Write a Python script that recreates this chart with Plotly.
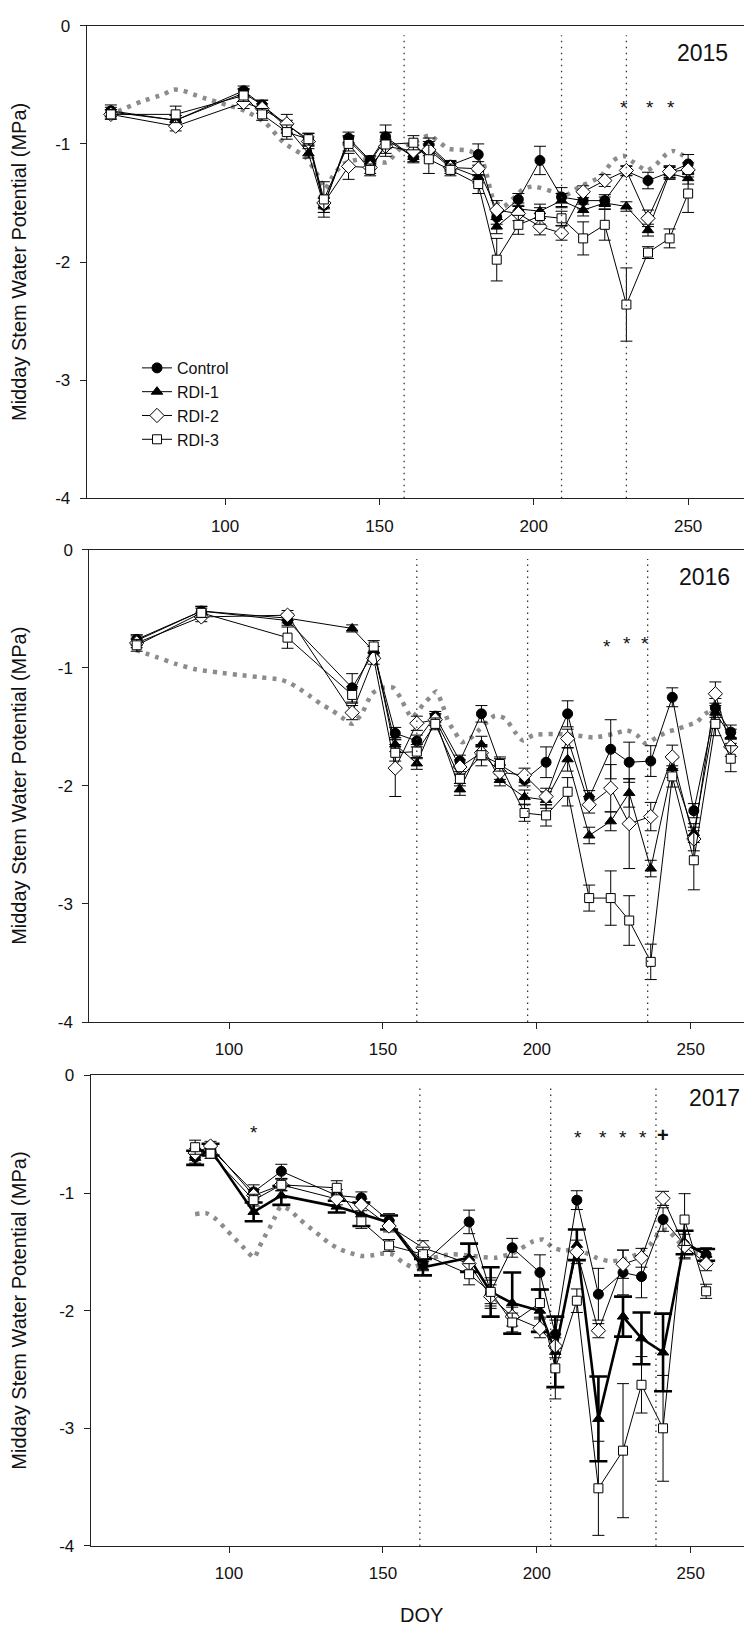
import plotly.graph_objects as go

# ---------------- 2015 ----------------
doy15 = [63, 84, 106, 112, 120, 127, 132, 140, 147, 152, 161, 166, 173, 182, 188, 195, 202, 209, 216, 223, 230, 237, 244, 250]
ctl15 = [-0.72, -0.80, -0.55, -0.67, -0.84, -0.96, -1.52, -0.95, -1.14, -0.94, -1.11, -1.01, -1.18, -1.09, -1.62, -1.47, -1.14, -1.45, -1.48, -1.48, -1.23, -1.31, -1.24, -1.17]
ctl15e = [0.05, 0.04, 0.04, 0.04, 0.04, 0.05, 0.06, 0.05, 0.04, 0.10, 0.05, 0.06, 0.04, 0.09, 0.06, 0.05, 0.12, 0.08, 0.07, 0.05, 0.04, 0.07, 0.05, 0.08]
r1_15 = [-0.73, -0.80, -0.57, -0.67, -0.86, -1.08, -1.52, -0.97, -1.15, -0.96, -1.11, -1.03, -1.19, -1.28, -1.70, -1.55, -1.57, -1.48, -1.56, -1.50, -1.53, -1.73, -1.25, -1.29]
r1_15e = [0.04, 0.04, 0.04, 0.04, 0.04, 0.04, 0.06, 0.04, 0.04, 0.06, 0.04, 0.05, 0.04, 0.05, 0.06, 0.05, 0.06, 0.06, 0.05, 0.05, 0.04, 0.05, 0.05, 0.05]
r2_15 = [-0.75, -0.85, -0.65, -0.70, -0.83, -0.98, -1.50, -1.19, -1.20, -1.02, -1.06, -1.05, -1.20, -1.21, -1.56, -1.59, -1.70, -1.755, -1.405, -1.31, -1.225, -1.63, -1.235, -1.22]
r2_15e = [0.04, 0.04, 0.05, 0.04, 0.08, 0.04, 0.05, 0.11, 0.05, 0.06, 0.05, 0.05, 0.05, 0.06, 0.08, 0.06, 0.07, 0.06, 0.05, 0.05, 0.04, 0.07, 0.05, 0.06]
r3_15 = [-0.75, -0.75, -0.59, -0.75, -0.90, -0.96, -1.47, -1.00, -1.22, -1.005, -0.99, -1.13, -1.22, -1.34, -1.98, -1.685, -1.61, -1.63, -1.80, -1.685, -2.36, -1.92, -1.80, -1.42]
r3_15e = [0.04, 0.07, 0.05, 0.05, 0.06, 0.05, 0.15, 0.06, 0.05, 0.10, 0.06, 0.12, 0.05, 0.08, 0.18, 0.08, 0.07, 0.06, 0.14, 0.13, 0.31, 0.05, 0.08, 0.16]
ref15_doy = [62.4, 66.5, 73, 80, 83.3, 86.5, 89.7, 93, 100.5, 106.5, 113, 119, 126, 129.7, 132.4, 134.5, 138.2, 143.7, 152.4, 156.7, 161, 166.2, 172.3, 179.4, 183.7, 187, 190.2, 196.7, 200, 206.3, 210.6, 215, 221.5, 225.8, 229, 232.3, 236.6, 239.8, 243, 245.2, 248.5]
ref15 = [-0.76, -0.71, -0.64, -0.58, -0.54, -0.55, -0.58, -0.61, -0.67, -0.72, -0.82, -0.99, -1.11, -1.25, -1.38, -1.29, -1.17, -1.13, -1.155, -1.04, -0.99, -0.93, -1.04, -1.06, -1.17, -1.475, -1.53, -1.38, -1.36, -1.405, -1.43, -1.36, -1.28, -1.14, -1.10, -1.155, -1.225, -1.17, -1.085, -1.06, -1.10]
vl15 = [158, 209, 230]
star15_doy = [229.3, 237.8, 244.4]
star15_y = [-0.675, -0.675, -0.675]

# ---------------- 2016 ----------------
doy16 = [70, 91, 119, 140, 147, 154, 161, 167, 175, 182, 188, 196, 203, 210, 217, 224, 230, 237, 244, 251, 258, 263]
ctl16 = [-0.76, -0.52, -0.60, -1.17, -0.87, -1.555, -1.62, -1.41, -1.79, -1.39, -1.82, -1.95, -1.80, -1.39, -2.10, -1.69, -1.80, -1.79, -1.25, -2.21, -1.34, -1.545]
ctl16e = [0.04, 0.04, 0.04, 0.12, 0.05, 0.05, 0.05, 0.04, 0.05, 0.07, 0.05, 0.05, 0.13, 0.11, 0.06, 0.25, 0.17, 0.13, 0.08, 0.06, 0.08, 0.06]
r1_16 = [-0.77, -0.52, -0.58, -0.667, -0.86, -1.65, -1.81, -1.44, -2.03, -1.65, -1.95, -2.095, -2.12, -1.775, -2.42, -2.30, -2.06, -2.70, -1.85, -2.40, -1.38, -1.58]
r1_16e = [0.04, 0.04, 0.04, 0.03, 0.04, 0.06, 0.05, 0.05, 0.05, 0.07, 0.05, 0.06, 0.07, 0.10, 0.07, 0.08, 0.12, 0.07, 0.08, 0.08, 0.08, 0.06]
r2_16 = [-0.79, -0.57, -0.555, -1.38, -0.92, -1.85, -1.47, -1.44, -1.84, -1.72, -1.885, -1.91, -2.09, -1.60, -2.16, -2.02, -2.32, -2.26, -1.755, -2.45, -1.22, -1.67]
r2_16e = [0.04, 0.04, 0.04, 0.06, 0.05, 0.24, 0.06, 0.05, 0.06, 0.06, 0.06, 0.06, 0.07, 0.08, 0.07, 0.20, 0.38, 0.12, 0.10, 0.10, 0.10, 0.08]
r3_16 = [-0.81, -0.535, -0.745, -1.23, -0.82, -1.72, -1.71, -1.475, -1.94, -1.74, -1.815, -2.23, -2.25, -2.05, -2.95, -2.95, -3.14, -3.49, -1.92, -2.63, -1.475, -1.77]
r3_16e = [0.05, 0.04, 0.09, 0.07, 0.05, 0.07, 0.06, 0.05, 0.06, 0.09, 0.06, 0.07, 0.09, 0.12, 0.11, 0.23, 0.21, 0.15, 0.09, 0.25, 0.10, 0.11]
ref16_doy = [69.8, 76.5, 83, 89.5, 96.5, 103, 110, 116.6, 119.8, 123, 126.3, 130, 133.4, 136.6, 139.9, 143.1, 146.4, 149.6, 153.4, 155.6, 159.4, 163.1, 165.3, 167.3, 169.1, 171.3, 173.4, 175.6, 178.3, 181.5, 186.4, 189.7, 192.9, 195.4, 198.9, 205.4, 211.9, 218.4, 224.9, 229.3, 232.5, 235.2, 239, 242.2, 245.5, 248.7, 252, 254.6, 260]
ref16 = [-0.85, -0.91, -0.97, -1.015, -1.04, -1.06, -1.08, -1.10, -1.13, -1.18, -1.24, -1.31, -1.36, -1.42, -1.475, -1.39, -1.22, -1.17, -1.17, -1.25, -1.42, -1.31, -1.25, -1.20, -1.295, -1.46, -1.545, -1.63, -1.60, -1.52, -1.405, -1.43, -1.545, -1.615, -1.57, -1.56, -1.57, -1.59, -1.56, -1.53, -1.57, -1.64, -1.59, -1.545, -1.52, -1.49, -1.46, -1.39, -1.32]
vl16 = [161, 197, 236]
star16_doy = [222.7, 229.4, 235.2]
star16_y = [-0.80, -0.78, -0.78]

# ---------------- 2017 ----------------
doy17 = [89, 94, 108, 117, 135, 143, 152, 163, 178, 185, 192, 201, 206, 213, 220, 228, 234, 241, 248, 255]
ctl17 = [-0.695, -0.62, -0.99, -0.815, -1.02, -1.04, -1.235, -1.60, -1.245, -1.84, -1.465, -1.675, -2.20, -1.06, -1.86, -1.675, -1.71, -1.225, -1.44, -1.525]
ctl17e = [0.05, 0.04, 0.06, 0.06, 0.05, 0.05, 0.06, 0.06, 0.10, 0.12, 0.08, 0.15, 0.12, 0.08, 0.22, 0.19, 0.18, 0.10, 0.12, 0.06]
r1_17 = [-0.70, -0.63, -1.16, -1.02, -1.115, -1.18, -1.25, -1.63, -1.55, -1.84, -1.935, -2.00, -2.35, -1.44, -2.92, -2.05, -2.235, -2.355, -1.42, -1.525]
r1_17e = [0.06, 0.05, 0.08, 0.08, 0.05, 0.10, 0.06, 0.07, 0.12, 0.21, 0.26, 0.18, 0.30, 0.13, 0.36, 0.17, 0.22, 0.33, 0.10, 0.05]
r2_17 = [-0.66, -0.60, -1.02, -0.93, -1.05, -1.10, -1.28, -1.465, -1.60, -1.88, -2.05, -2.15, -2.30, -1.50, -2.17, -1.605, -1.55, -1.045, -1.45, -1.60]
r2_17e = [0.04, 0.04, 0.05, 0.05, 0.05, 0.05, 0.05, 0.06, 0.06, 0.10, 0.08, 0.08, 0.10, 0.10, 0.06, 0.12, 0.08, 0.06, 0.10, 0.06]
r3_17 = [-0.61, -0.665, -1.06, -0.93, -0.955, -1.24, -1.445, -1.52, -1.69, -1.84, -2.10, -1.935, -2.49, -1.915, -3.51, -3.19, -2.63, -3.00, -1.225, -1.835]
r3_17e = [0.06, 0.04, 0.05, 0.05, 0.06, 0.06, 0.05, 0.06, 0.09, 0.10, 0.08, 0.12, 0.26, 0.10, 0.40, 0.57, 0.24, 0.45, 0.22, 0.06]
ref17_doy = [89, 92.5, 95.7, 98.9, 102, 105, 108.2, 109.8, 111.5, 113.3, 115, 116.8, 119.6, 122.8, 126.1, 129.5, 132.8, 136.3, 139.5, 143.1, 146.3, 149.6, 152.8, 156.6, 159.8, 166.3, 172.8, 179.3, 186.4, 192.3, 198.8, 202, 205.3, 209.1, 213, 216.1, 219.4, 223.7, 228, 232.4, 236.7, 239.4, 242.1, 245.4, 248.6, 252.4, 255.6]
ref17 = [-1.18, -1.17, -1.22, -1.305, -1.39, -1.47, -1.55, -1.46, -1.375, -1.29, -1.20, -1.115, -1.14, -1.22, -1.29, -1.36, -1.43, -1.48, -1.51, -1.535, -1.53, -1.515, -1.52, -1.59, -1.63, -1.55, -1.52, -1.535, -1.55, -1.51, -1.41, -1.395, -1.465, -1.49, -1.47, -1.51, -1.55, -1.58, -1.565, -1.52, -1.44, -1.35, -1.31, -1.395, -1.48, -1.51, -1.49]
vl17 = [162, 204.5, 238.7]
star17_doy = [108.2, 213.3, 221.6, 228.1, 234.6]
star17_y = [-0.47, -0.51, -0.51, -0.51, -0.51]
plus17_doy = [240.9]
plus17_y = [-0.51]

years = ["2015", "2016", "2017"]
names = ["Control", "RDI-1", "RDI-2", "RDI-3"]
x_ticks = [100, 150, 200, 250]
y_ticks = [0, -1, -2, -3, -4]
y_ticklabels = ["0", "-1", "-2", "-3", "-4"]

FONT = "Liberation Sans, Arial, sans-serif"
W, H = 744, 1636

symbols = ["circle", "triangle-up", "diamond", "square"]
fills = ["black", "black", "white", "white"]
msizes = [10, 10, 11, 9]

panels = [
    dict(doy=doy15, series=[(ctl15, ctl15e), (r1_15, r1_15e), (r2_15, r2_15e), (r3_15, r3_15e)],
         ref=(ref15_doy, ref15), vl=vl15, stars=(star15_doy, star15_y), plus=None,
         xdom=[86.7 / W, 1.0], xr=[55.17, 268.1], ytop=17, ybot=495, bold_r1=False),
    dict(doy=doy16, series=[(ctl16, ctl16e), (r1_16, r1_16e), (r2_16, r2_16e), (r3_16, r3_16e)],
         ref=(ref16_doy, ref16), vl=vl16, stars=(star16_doy, star16_y), plus=None,
         xdom=[89.3 / W, 1.0], xr=[54.6, 267.3], ytop=547, ybot=1025, bold_r1=False),
    dict(doy=doy17, series=[(ctl17, ctl17e), (r1_17, r1_17e), (r2_17, r2_17e), (r3_17, r3_17e)],
         ref=(ref17_doy, ref17), vl=vl17, stars=(star17_doy, star17_y), plus=(plus17_doy, plus17_y),
         xdom=[90.7 / W, 1.0], xr=[55.07, 267.3], ytop=1079, ybot=1555, bold_r1=True),
]
year_pos = [(730, 45), (732, 575), (742, 1102)]

fig = go.Figure()
shapes = []
annotations = []

for i, p in enumerate(panels):
    k = "" if i == 0 else str(i + 1)
    xa, ya = "x" + k, "y" + k
    # grey dotted reference curve
    fig.add_trace(go.Scatter(
        x=p["ref"][0], y=p["ref"][1], xaxis=xa, yaxis=ya, mode="lines",
        line=dict(color="#8c8c8c", width=4.5, dash="4px,6px", shape="spline", smoothing=0.6),
        showlegend=False, hoverinfo="skip"))
    for j, (vals, errs) in enumerate(p["series"]):
        bold = p["bold_r1"] and j == 1
        fig.add_trace(go.Scatter(
            x=p["doy"], y=vals, xaxis=xa, yaxis=ya, mode="lines+markers", name=names[j],
            line=dict(color="black", width=2.6 if bold else 1),
            marker=dict(symbol=symbols[j], size=msizes[j], color=fills[j],
                        line=dict(color="black", width=1)),
            error_y=dict(type="data", array=errs, visible=True, color="black",
                         thickness=2.6 if bold else 1, width=9 if bold else 6),
            showlegend=(i == 0)))
    # vertical dotted lines
    for v in p["vl"]:
        shapes.append(dict(type="line", xref=xa, yref=ya, x0=v, x1=v, y0=-4, y1=-0.08,
                           line=dict(color="#333333", width=1.3, dash="1.5px,4.5px")))
    # significance markers
    for sx, sy in zip(*p["stars"]):
        annotations.append(dict(x=sx, y=sy, xref=xa, yref=ya, text="*", showarrow=False,
                                font=dict(family=FONT, size=19, color="#111"), yshift=-2))
    if p["plus"]:
        for sx, sy in zip(*p["plus"]):
            annotations.append(dict(x=sx, y=sy, xref=xa, yref=ya, text="<b>+</b>", showarrow=False,
                                    font=dict(family=FONT, size=20, color="#111")))
    # year label
    yx, yy = year_pos[i]
    annotations.append(dict(x=yx / W, y=1 - yy / H, xref="paper", yref="paper", text=years[i],
                            showarrow=False, xanchor="right", yanchor="middle",
                            font=dict(family=FONT, size=23, color="#111")))
    # y axis title
    annotations.append(dict(x=19 / W, y=1 - (p["ytop"] + p["ybot"]) / 2 / H, xref="paper", yref="paper",
                            text="Midday Stem Water Potential (MPa)", textangle=-90, showarrow=False,
                            xanchor="center", yanchor="middle",
                            font=dict(family=FONT, size=20, color="#111")))
    axcommon = dict(showgrid=False, zeroline=False, showline=True, linecolor="#222", linewidth=1,
                    ticks="outside", ticklen=6, tickwidth=1, tickcolor="#222",
                    tickfont=dict(family=FONT, size=17, color="#111"))
    fig.layout["xaxis" + k] = dict(domain=p["xdom"], range=p["xr"], anchor=ya, tickvals=x_ticks,
                                   mirror=True, ticklabelstandoff=6, **axcommon)
    fig.layout["yaxis" + k] = dict(domain=[1 - p["ybot"] / H, 1 - p["ytop"] / H], range=[-4, 0],
                                   anchor=xa, tickvals=y_ticks, ticktext=y_ticklabels,
                                   ticklabelstandoff=6, **axcommon)

annotations.append(dict(x=421 / W, y=1 - 1625 / H, xref="paper", yref="paper", text="DOY",
                        showarrow=False, xanchor="center", yanchor="middle",
                        font=dict(family=FONT, size=20, color="#111")))

fig.update_layout(
    width=W, height=H, margin=dict(l=0, r=0, t=0, b=0),
    paper_bgcolor="white", plot_bgcolor="white",
    shapes=shapes, annotations=annotations,
    legend=dict(x=137 / W, y=1 - 346 / H, xanchor="left", yanchor="top",
                bgcolor="rgba(0,0,0,0)", font=dict(family=FONT, size=16, color="#111"),
                itemwidth=30, tracegroupgap=0),
    showlegend=True,
)

fig.write_html("out.html")
